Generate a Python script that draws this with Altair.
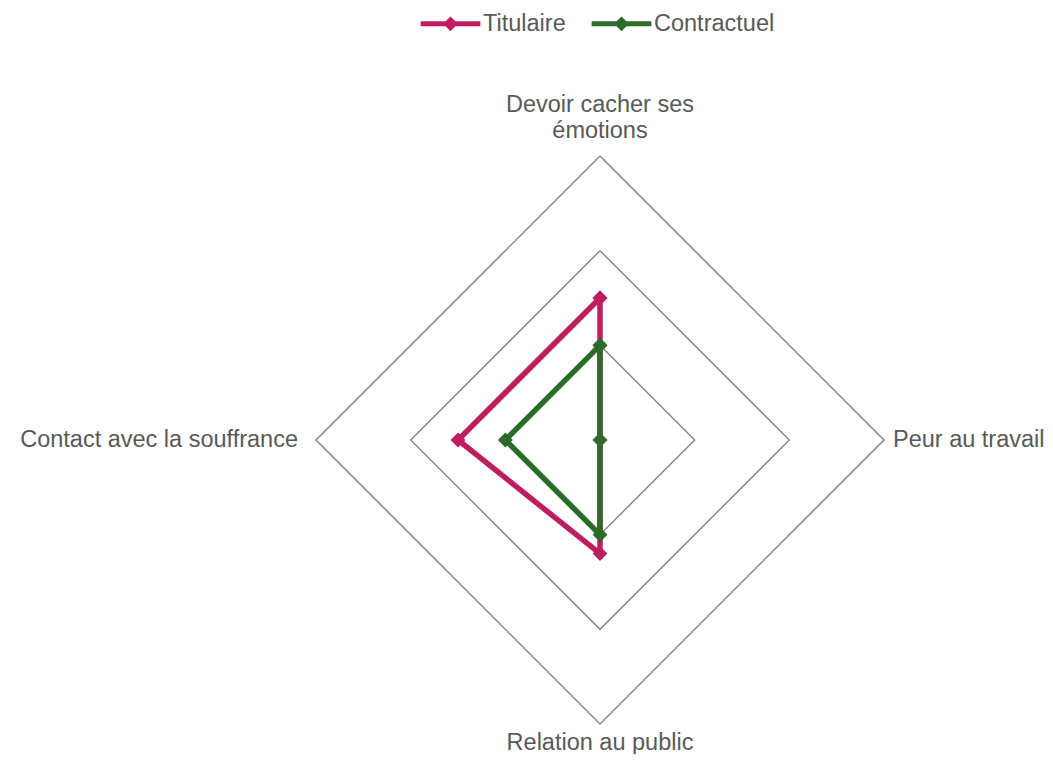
import altair as alt
import pandas as pd

# ---- data ----
categories = ["Devoir cacher ses\némotions", "Peur au travail",
              "Relation au public", "Contact avec la souffrance"]
series_names = ["Titulaire", "Contractuel"]
titulaire = [15, 0, 12, 15]
contractuel = [10, 0, 10, 10]
ring_levels = [10, 20, 30]
colors = ["#BE1E5E", "#2E6B2B"]

n = len(categories)
rows = []
for s, vals in zip(series_names, [titulaire, contractuel]):
    for i in range(n + 1):
        k = i % n
        rows.append({"series": s, "idx": i, "axis": k, "value": vals[k]})
series_df = pd.DataFrame(rows)

ring_rows = []
for lvl in ring_levels:
    for i in range(n + 1):
        ring_rows.append({"ring": lvl, "idx": i, "axis": i % n, "value": lvl})
ring_df = pd.DataFrame(ring_rows)

label_df = pd.DataFrame({"category": categories, "axis": list(range(n)),
                         "value": [ring_levels[-1]] * n})

FONT = "Liberation Sans"
TXT = "#595959"

W, H = 1037, 746
PX = 284 / 30.0
CX, CY = 592, 432
xs = alt.Scale(domain=[-CX / PX, (W - CX) / PX], nice=False, zero=False)
ys = alt.Scale(domain=[-(H - CY) / PX, CY / PX], nice=False, zero=False)


def polar(ch):
    return ch.transform_calculate(
        ang=f"datum.axis * 2 * PI / {n}"
    ).transform_calculate(
        x="datum.value * sin(datum.ang)",
        y="datum.value * cos(datum.ang)",
    )


X = alt.X("x:Q", scale=xs, axis=None)
Y = alt.Y("y:Q", scale=ys, axis=None)

rings = polar(alt.Chart(ring_df)).mark_line(
    color="#898989", strokeWidth=1.5
).encode(x=X, y=Y, detail="ring:N", order="idx:Q")

color = alt.Color(
    "series:N",
    scale=alt.Scale(domain=series_names, range=colors),
    legend=alt.Legend(
        orient="none", legendX=410, legendY=-17, direction="horizontal",
        title=None,
        symbolType="M-1,0L1,0M0,-0.13L0.13,0L0,0.13L-0.13,0Z",
        symbolSize=3570, symbolStrokeWidth=5,
        labelFontSize=23.5, labelFont=FONT, labelColor=TXT,
        labelOffset=0, columnPadding=15,
    ),
)

lines = polar(alt.Chart(series_df)).mark_line(strokeWidth=5.5).encode(
    x=X, y=Y, color=color, order="idx:Q"
)
points = polar(alt.Chart(series_df)).mark_point(
    shape="diamond", filled=True, size=220, opacity=1
).encode(x=X, y=Y, color=alt.Color("series:N", scale=alt.Scale(domain=series_names, range=colors), legend=None))

base_lbl = polar(alt.Chart(label_df))
tprops = dict(font=FONT, fontSize=23.5, color=TXT, lineBreak="\n", lineHeight=26.7,
              baseline="alphabetic")
lbl_top = base_lbl.transform_filter("datum.axis == 0").mark_text(
    align="center", dy=-44.3, **tprops).encode(x=X, y=Y, text="category:N")
lbl_right = base_lbl.transform_filter("datum.axis == 1").mark_text(
    align="left", dx=9, dy=6.7, **tprops).encode(x=X, y=Y, text="category:N")
lbl_bottom = base_lbl.transform_filter("datum.axis == 2").mark_text(
    align="center", dy=26, **tprops).encode(x=X, y=Y, text="category:N")
lbl_left = base_lbl.transform_filter("datum.axis == 3").mark_text(
    align="right", dx=-18, dy=6.7, **tprops).encode(x=X, y=Y, text="category:N")

chart = alt.layer(
    rings, lines, points, lbl_top, lbl_right, lbl_bottom, lbl_left
).properties(
    width=W, height=H, padding=0,
    autosize=alt.AutoSizeParams(type="none"),
).configure_view(stroke=None)

chart.save("out.html", embed_options={"renderer": "svg", "actions": False})
